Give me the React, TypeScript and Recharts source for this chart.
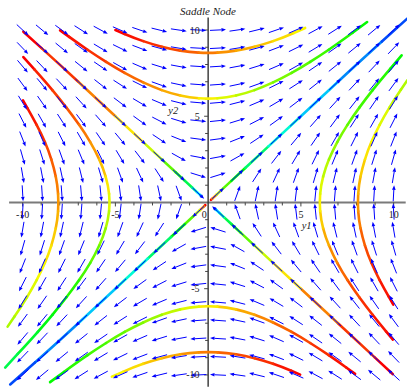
import React from 'react'
import { ScatterChart, Scatter, XAxis, YAxis, ReferenceLine } from 'recharts'

// Saddle node phase portrait: y1' = y2, y2' = y1
// direction arrows on a 20x20 grid + 12 trajectories coloured by time (hue)

const W = 407
const H = 387
const X_DOMAIN: [number, number] = [-11.22, 10.72]
const Y_DOMAIN: [number, number] = [-10.7, 11.74]
const SX = W / (X_DOMAIN[1] - X_DOMAIN[0])
const SY = H / (Y_DOMAIN[1] - Y_DOMAIN[0])

const SERIF = '"Liberation Serif", "Times New Roman", serif'

// grid of the direction field
const GRID_Y1 = [-10, -8.95, -7.89, -6.84, -5.79, -4.74, -3.68, -2.63, -1.58, -0.53, 0.53, 1.58, 2.63, 3.68, 4.74, 5.79, 6.84, 7.89, 8.95, 10]
const GRID_Y2 = [-10, -8.95, -7.89, -6.84, -5.79, -4.74, -3.68, -2.63, -1.58, -0.53, 0.53, 1.58, 2.63, 3.68, 4.74, 5.79, 6.84, 7.89, 8.95, 10]

// right hand side of the system
const rhs = (y1: number, y2: number): [number, number] => [y2, y1]

// trajectories: [y1, y2, hue]
type Pt = [number, number, number]

const TOP_OUTER: Pt[] = [
  [-5.0, 10.0, 0], [-4, 9.54, 5], [-3, 9.17, 11], [-2, 8.89, 17], [-1, 8.72, 23], [0, 8.66, 29],
  [1, 8.72, 35], [2, 8.89, 41], [3, 9.17, 47], [4, 9.54, 53], [5.23, 10.12, 59],
]
const TOP_INNER: Pt[] = [
  [-7.98, 9.98, 0], [-7, 9.22, 5], [-6, 8.49, 12], [-5, 7.81, 18], [-4, 7.21, 25], [-3, 6.71, 33],
  [-2, 6.32, 41], [-1, 6.08, 49], [0, 6.0, 58], [1, 6.08, 67], [2, 6.32, 75], [3, 6.71, 84],
  [4, 7.21, 91], [5, 7.81, 98], [6, 8.49, 105], [7, 9.22, 111], [8.57, 10.46, 119],
]
const BOTTOM_INNER: Pt[] = [
  [7.92, -9.94, 0], [7, -9.22, 4], [6, -8.49, 11], [5, -7.81, 17], [4, -7.21, 24], [3, -6.71, 32],
  [2, -6.32, 40], [1, -6.08, 49], [0, -6.0, 57], [-1, -6.08, 66], [-2, -6.32, 74], [-3, -6.71, 83],
  [-4, -7.21, 90], [-5, -7.81, 97], [-6, -8.49, 104], [-7, -9.22, 110], [-8.52, -10.42, 119],
]
const BOTTOM_OUTER: Pt[] = [
  [4.96, -9.98, 0], [4, -9.54, 5], [3, -9.17, 11], [2, -8.89, 17], [1, -8.72, 23], [0, -8.66, 29],
  [-1, -8.72, 35], [-2, -8.89, 41], [-3, -9.17, 47], [-4, -9.54, 53], [-5.19, -10.1, 60],
]
const LEFT_INNER: Pt[] = [
  [-9.96, 8.43, 0], [-8.77, 7, 8], [-8, 6, 15], [-7.28, 5, 21], [-6.63, 4, 29], [-6.08, 3, 37],
  [-5.66, 2, 46], [-5.39, 1, 56], [-5.29, 0, 66], [-5.39, -1, 76], [-5.66, -2, 86], [-6.08, -3, 95],
  [-6.63, -4, 103], [-7.28, -5, 111], [-8, -6, 118], [-8.77, -7, 124], [-9.59, -8, 130], [-10.94, -9.57, 138],
]
const LEFT_OUTER: Pt[] = [
  [-9.98, 5.92, 0], [-9.49, 5, 5], [-9, 4, 11], [-8.6, 3, 17], [-8.31, 2, 23], [-8.12, 1, 30],
  [-8.06, 0, 36], [-8.12, -1, 43], [-8.31, -2, 49], [-8.6, -3, 55], [-9, -4, 61], [-9.49, -5, 67],
  [-10.05, -6, 73], [-10.81, -7.2, 79],
]
const RIGHT_INNER: Pt[] = [
  [9.96, -7.95, 0], [9.22, -7, 5], [8.49, -6, 11], [7.81, -5, 18], [7.21, -4, 25], [6.71, -3, 33],
  [6.32, -2, 41], [6.08, -1, 49], [6.0, 0, 58], [6.08, 1, 67], [6.32, 2, 75], [6.71, 3, 84],
  [7.21, 4, 91], [7.81, 5, 98], [8.49, 6, 105], [9.22, 7, 111], [10.43, 8.53, 119],
]
const RIGHT_OUTER: Pt[] = [
  [9.98, -5.92, 0], [9.49, -5, 5], [9, -4, 11], [8.6, -3, 17], [8.31, -2, 23], [8.12, -1, 30],
  [8.06, 0, 36], [8.12, 1, 43], [8.31, 2, 49], [8.6, 3, 55], [9, 4, 61], [9.49, 5, 67],
  [10.05, 6, 73], [10.73, 7.08, 78],
]
const STABLE_UPPER: Pt[] = [
  [-9.96, 9.9, 0], [-8, 8, 13], [-6, 6, 31], [-4, 4, 55], [-3, 3, 72], [-2, 2, 97],
  [-1.5, 1.5, 114], [-1, 1, 138], [-0.7, 0.7, 160], [-0.5, 0.5, 180], [-0.35, 0.35, 201],
]
const STABLE_LOWER: Pt[] = [
  [9.96, -9.96, 0], [8, -8, 13], [6, -6, 31], [4, -4, 55], [3, -3, 72], [2, -2, 97],
  [1.5, -1.5, 114], [1, -1, 138], [0.7, -0.7, 160], [0.5, -0.5, 180], [0.35, -0.35, 201],
]
const UNSTABLE_UPPER: Pt[] = [
  [0.15, 0.15, 0], [0.3, 0.3, 36], [0.6, 0.6, 72], [1, 1, 99], [1.5, 1.5, 120], [2.5, 2.5, 146],
  [4, 4, 171], [6, 6, 192], [8, 8, 207], [10.73, 10.66, 222],
]
const UNSTABLE_LOWER: Pt[] = [
  [-0.15, -0.15, 0], [-0.3, -0.3, 36], [-0.6, -0.6, 72], [-1, -1, 99], [-1.5, -1.5, 120], [-2.5, -2.5, 146],
  [-4, -4, 171], [-6, -6, 192], [-8, -8, 207], [-10.67, -10.55, 222],
]

const TRAJECTORIES = [
  TOP_OUTER, TOP_INNER, BOTTOM_INNER, BOTTOM_OUTER, LEFT_INNER, LEFT_OUTER,
  RIGHT_INNER, RIGHT_OUTER, STABLE_UPPER, STABLE_LOWER, UNSTABLE_UPPER, UNSTABLE_LOWER,
]

// axes ticks / labels
const X_TICKS = [-10, -9, -8, -7, -6, -5, -4, -3, -2, -1, 1, 2, 3, 4, 5, 6, 7, 8, 9, 10]
const Y_TICKS = [-10, -9, -8, -7, -6, -5, -4, -3, -2, -1, 1, 2, 3, 4, 5, 6, 7, 8, 9, 10]
const X_TICK_LABELS = [-10, -5, 0, 5, 10]
const Y_TICK_LABELS = [-10, -5, 5, 10]
const AXIS_LABELS = [
  { x: 5.31, y: -1.39, text: 'y1' },
  { x: -1.88, y: 5.29, text: 'y2' },
]

const field = GRID_Y1.flatMap(y1 => GRID_Y2.map(y2 => {
  const [u, v] = rhs(y1, y2)
  return { x: y1, y: y2, u, v }
}))

const ARROW_LEN = 16
const HEAD_LEN = 4.5
const HEAD_W = 1.8
const ARROW_COLOR = '#0000ff'

const hue = (h: number) => `hsl(${h}, 100%, 49%)`

function Nothing() {
  return <g />
}

function FieldArrow(props: any) {
  const { cx, cy, payload } = props
  if (cx == null || cy == null) return <g />
  const dx = payload.u * SX
  const dy = -payload.v * SY
  const len = Math.hypot(dx, dy) || 1
  const ux = dx / len
  const uy = dy / len
  const half = ARROW_LEN / 2
  const x1 = cx - ux * half, y1 = cy - uy * half
  const x2 = cx + ux * half, y2 = cy + uy * half
  const bx = x2 - ux * HEAD_LEN, by = y2 - uy * HEAD_LEN
  const px = -uy * HEAD_W, py = ux * HEAD_W
  return (
    <g>
      <line x1={x1} y1={y1} x2={bx} y2={by} stroke={ARROW_COLOR} strokeWidth={1} />
      <polygon points={`${x2},${y2} ${bx + px},${by + py} ${bx - px},${by - py}`} fill={ARROW_COLOR} />
    </g>
  )
}

// smooth line through the scaled points, each piece coloured with the hue of its point
function HueLine(props: any) {
  const pts: { x: number; y: number }[] = props.points || []
  const hues: number[] = props.hues || []
  if (pts.length < 2) return <g />
  const mid = (a: any, b: any) => ({ x: (a.x + b.x) / 2, y: (a.y + b.y) / 2 })
  const n = pts.length
  const pieces: React.ReactNode[] = []
  const m01 = mid(pts[0], pts[1])
  pieces.push(<path key="s" d={`M${pts[0].x},${pts[0].y}L${m01.x},${m01.y}`} stroke={hue(hues[0])} />)
  for (let i = 1; i < n - 1; i++) {
    const a = mid(pts[i - 1], pts[i])
    const b = mid(pts[i], pts[i + 1])
    pieces.push(
      <path key={i} d={`M${a.x},${a.y}Q${pts[i].x},${pts[i].y} ${b.x},${b.y}`} stroke={hue(hues[i])} />
    )
  }
  const ml = mid(pts[n - 2], pts[n - 1])
  pieces.push(<path key="e" d={`M${ml.x},${ml.y}L${pts[n - 1].x},${pts[n - 1].y}`} stroke={hue(hues[n - 1])} />)
  return <g fill="none" strokeWidth={2.6} strokeLinecap="round">{pieces}</g>
}

function XTick(props: any) {
  const { cx, cy, payload } = props
  const len = payload.x % 5 === 0 ? 4 : 3
  return <line x1={cx} y1={cy} x2={cx} y2={cy + len} stroke="#444" strokeWidth={1} />
}

function YTick(props: any) {
  const { cx, cy, payload } = props
  const len = payload.y % 5 === 0 ? 4 : 3
  return <line x1={cx} y1={cy} x2={cx - len} y2={cy} stroke="#444" strokeWidth={1} />
}

function XTickLabel(props: any) {
  const { cx, cy, payload } = props
  const shift = payload.x === 0 ? -4 : 0
  return (
    <text x={cx + shift} y={cy + 15.5} textAnchor="middle" fontFamily={SERIF} fontSize={10} fill="#222">
      {String(payload.x)}
    </text>
  )
}

function YTickLabel(props: any) {
  const { cx, cy, payload } = props
  return (
    <text x={cx - 8.5} y={cy + 3.5} textAnchor="end" fontFamily={SERIF} fontSize={10} fill="#222">
      {String(payload.y)}
    </text>
  )
}

function AxisLabel(props: any) {
  const { cx, cy, payload } = props
  return (
    <text x={cx} y={cy + 3} textAnchor="middle" fontFamily={SERIF} fontStyle="italic" fontSize={10.5} fill="#222">
      {payload.text}
    </text>
  )
}

export default function App() {
  return (
    <div style={{ position: 'absolute', left: 0, top: 0, width: W, height: H, background: '#fff' }}>
      <ScatterChart width={W} height={H} margin={{ top: 0, right: 0, bottom: 0, left: 0 }}>
        <XAxis type="number" dataKey="x" domain={X_DOMAIN} hide allowDataOverflow />
        <YAxis type="number" dataKey="y" domain={Y_DOMAIN} hide allowDataOverflow />

        <ReferenceLine segment={[{ x: -10.73, y: 0 }, { x: 10.65, y: 0 }]} stroke="#7a7a7a" strokeWidth={2} />
        <ReferenceLine segment={[{ x: 0, y: 10.72 }, { x: 0, y: -10.69 }]} stroke="#333" strokeWidth={1.4} />

        <Scatter data={X_TICKS.map(x => ({ x, y: 0 }))} shape={XTick} isAnimationActive={false} />
        <Scatter data={Y_TICKS.map(y => ({ x: 0, y }))} shape={YTick} isAnimationActive={false} />

        {TRAJECTORIES.map((traj, i) => (
          <Scatter
            key={i}
            data={traj.map(([x, y, h]) => ({ x, y, h }))}
            shape={Nothing}
            line={<HueLine hues={traj.map(p => p[2])} />}
            isAnimationActive={false}
          />
        ))}

        <Scatter data={field} shape={FieldArrow} isAnimationActive={false} />

        <Scatter data={X_TICK_LABELS.map(x => ({ x, y: 0 }))} shape={XTickLabel} isAnimationActive={false} />
        <Scatter data={Y_TICK_LABELS.map(y => ({ x: 0, y }))} shape={YTickLabel} isAnimationActive={false} />
        <Scatter data={AXIS_LABELS} shape={AxisLabel} isAnimationActive={false} />
      </ScatterChart>
      <div
        style={{
          position: 'absolute', left: 0, top: 4, width: 416, textAlign: 'center',
          fontFamily: SERIF, fontStyle: 'italic', fontSize: 11, lineHeight: '14px', color: '#222',
        }}
      >
        Saddle Node
      </div>
    </div>
  )
}
